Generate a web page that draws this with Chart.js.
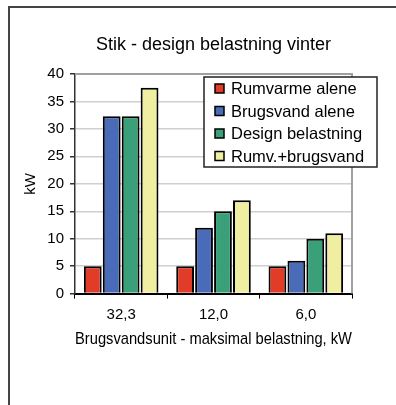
<!DOCTYPE html>
<html>
<head>
<meta charset="utf-8">
<title>Stik - design belastning vinter</title>
<script src="https://cdn.jsdelivr.net/npm/chart.js@4"></script>
<style>
  html, body { margin: 0; padding: 0; background: #fff; }
  #wrap { position: relative; width: 396px; height: 405px; }
</style>
</head>
<body>
<div id="wrap"><canvas id="stik" width="396" height="405"></canvas></div>
<script>
const categories = ["32,3", "12,0", "6,0"];
const seriesNames = ["Rumvarme alene", "Brugsvand alene", "Design belastning", "Rumv.+brugsvand"];
const rumvarme = [5, 5, 5];
const brugsvand = [32.3, 12, 6];
const design = [32.3, 15, 10];
const rumvBrugsvand = [37.5, 17, 11];
const yTicks = [0, 5, 10, 15, 20, 25, 30, 35, 40];

const colors = ["#e03c28", "#4a6cb8", "#3aa07a", "#f0eea0"];
const FONT = "'Liberation Sans', Arial, sans-serif";

// ramme til venstre og foroven
const frame = {
  id: "frame",
  beforeDraw(chart) {
    const ctx = chart.ctx;
    ctx.save();
    ctx.strokeStyle = "#444";
    ctx.lineWidth = 2;
    ctx.beginPath();
    ctx.moveTo(9, 405);
    ctx.lineTo(9, 7);
    ctx.lineTo(396, 7);
    ctx.stroke();
    ctx.restore();
  },
  beforeDatasetsDraw(chart) {
    const a = chart.chartArea;
    const ctx = chart.ctx;
    ctx.save();
    ctx.strokeStyle = "#a0a0a0";
    ctx.lineWidth = 2;
    ctx.beginPath();
    ctx.moveTo(a.left, a.top);
    ctx.lineTo(a.right, a.top);
    ctx.lineTo(a.right, a.bottom);
    ctx.stroke();
    ctx.restore();
  },
};

// legende i boks, som i Excel
const boxLegend = {
  id: "boxLegend",
  afterDraw(chart) {
    const ctx = chart.ctx;
    const x = 204, y = 77, w = 173, h = 90;
    ctx.save();
    ctx.fillStyle = "#fff";
    ctx.fillRect(x, y, w, h);
    ctx.strokeStyle = "#222";
    ctx.lineWidth = 1.5;
    ctx.strokeRect(x, y, w, h);
    ctx.font = "16.5px " + FONT;
    ctx.textBaseline = "middle";
    chart.data.datasets.forEach((ds, i) => {
      const cy = y + 11.5 + i * 22.5;
      ctx.fillStyle = ds.backgroundColor;
      ctx.fillRect(x + 11, cy - 4.5, 9, 9);
      ctx.strokeStyle = "#000";
      ctx.lineWidth = 1.5;
      ctx.strokeRect(x + 11, cy - 4.5, 9, 9);
      ctx.fillStyle = "#000";
      ctx.fillText(ds.label, x + 27, cy + 1);
    });
    ctx.restore();
  },
};

const values = [rumvarme, brugsvand, design, rumvBrugsvand];

new Chart(document.getElementById("stik"), {
  type: "bar",
  data: {
    labels: categories,
    datasets: values.map((v, i) => ({
      label: seriesNames[i],
      data: v,
      backgroundColor: colors[i],
      borderColor: "#000",
      borderWidth: 2,
      categoryPercentage: 0.82,
      barPercentage: 0.94,
    })),
  },
  options: {
    responsive: false,
    animation: false,
    layout: { padding: { left: 16, right: 44, top: 34, bottom: 49.5 } },
    plugins: {
      legend: { display: false },
      tooltip: { enabled: false },
      title: {
        display: true,
        text: "Stik - design belastning vinter",
        fullSize: false,
        color: "#000",
        font: { family: FONT, size: 18, weight: "normal" },
        padding: { top: 0, bottom: 18.4 },
      },
    },
    scales: {
      x: {
        grid: {
          offset: true,
          drawOnChartArea: false,
          tickLength: 5,
          tickColor: "#000",
        },
        border: { color: "#000", width: 2 },
        ticks: { color: "#000", padding: 7, font: { family: FONT, size: 15 } },
        title: {
          display: true,
          text: "Brugsvandsunit - maksimal belastning, kW",
          color: "#000",
          font: { family: FONT, size: 17 },
          padding: { top: -1.5, bottom: 6 },
        },
      },
      y: {
        min: 0,
        max: 40,
        afterBuildTicks(scale) {
          scale.ticks = yTicks.map((v) => ({ value: v }));
        },
        afterFit(scale) {
          scale.width = 59;
        },
        grid: { color: "#cfcfcf", lineWidth: 1.5, tickLength: 5, tickColor: "#333" },
        border: { color: "#333", width: 1.5 },
        ticks: { color: "#000", padding: 6, font: { family: FONT, size: 15 } },
        title: {
          display: true,
          text: "kW",
          color: "#000",
          font: { family: FONT, size: 15 },
          padding: { top: 6, bottom: 8 },
        },
      },
    },
  },
  plugins: [frame, boxLegend],
});
</script>
</body>
</html>
